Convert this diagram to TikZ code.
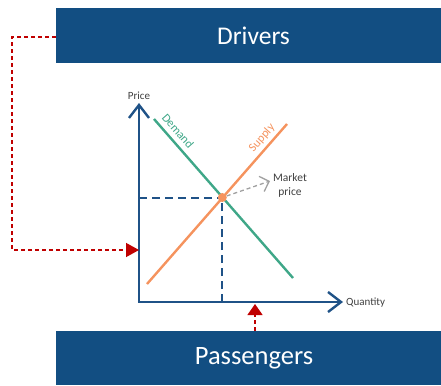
\documentclass[tikz,border=0pt]{standalone}
\usepackage{fontspec}
\setmainfont{Carlito}
\usetikzlibrary{arrows.meta}
\definecolor{boxblue}{HTML}{124E82}
\definecolor{axisblue}{HTML}{1F5287}
\definecolor{demandgreen}{HTML}{3FA788}
\definecolor{supplyorange}{HTML}{F5935E}
\definecolor{linkred}{HTML}{C00000}
\definecolor{labelgrey}{HTML}{404040}
\definecolor{pointergrey}{HTML}{A0A0A0}
\begin{document}
\begin{tikzpicture}[x=1pt,y=-1pt,
  banner/.style={fill=boxblue, text=white, minimum width=385pt, inner sep=0pt},
  axis/.style={draw=axisblue, line width=2.4pt, -{Straight Barb[length=13pt,width=20pt]}},
  guide/.style={draw=axisblue, line width=2pt, dash pattern=on 8pt off 5pt},
  curve/.style={line width=2.4pt},
  link/.style={draw=linkred, line width=1.4pt, dash pattern=on 4pt off 3pt, -{Triangle[length=13pt,width=14pt,fill=linkred]}},
  small/.style={text=labelgrey, inner sep=0pt}]
\useasboundingbox (0,0) rectangle (441,385);

% banners
\node[banner, minimum height=55pt] (drivers) at (248.5,35.5)
  {\fontsize{25.5}{28}\selectfont\hspace*{10pt}Drivers};
\node[banner, minimum height=54pt] (passengers) at (248.5,358)
  {\fontsize{26.5}{30}\selectfont\hspace*{11pt}Passengers};

% axes
\coordinate (origin) at (139,302);
\coordinate (ytop) at (139,103);
\coordinate (xend) at (343,302);
\draw[axis] ([yshift=1.2pt]origin) -- (ytop);
\draw[axis] ([xshift=-1.2pt]origin) -- (xend);
\node[small, anchor=south, font=\fontsize{11}{13}\selectfont] (price) at (139,100) {Price};
\node[small, anchor=west, font=\fontsize{11}{13}\selectfont] (quantity) at (346,303) {Quantity};

% demand and supply curves
\coordinate (d1) at (154,119);
\coordinate (d2) at (293,278);
\coordinate (s1) at (147,284);
\coordinate (s2) at (287,124);
\draw[curve, demandgreen] (d1) -- (d2);
\draw[curve, supplyorange] (s1) -- (s2);
\node[small, text=demandgreen, rotate=-48.6, font=\fontsize{12}{13}\selectfont] (demand) at (178,131) {Demand};
\node[small, text=supplyorange, rotate=48.8, font=\fontsize{12}{13}\selectfont] (supply) at (262,138) {Supply};

% equilibrium point and its guides
\coordinate (eq) at (222.3,197.5);
\coordinate (eqy) at (139,197.5);
\coordinate (eqx) at (222.3,302);
\draw[guide] (eqy) -- (eq);
\draw[guide] (eqx) -- (eq);
\node[circle, fill=supplyorange, minimum size=9pt, inner sep=0pt] (dot) at (eq) {};

% market price pointer
\node[small, align=center, font=\fontsize{11.5}{14}\selectfont] (market) at (290,185) {Market\\price};
\coordinate (mtip) at (270,181);
\draw[pointergrey, line width=1.3pt, dash pattern=on 4pt off 3pt, -{Straight Barb[length=8pt,width=16pt]}] (dot) -- (mtip);

% links from the banners to the axes
\coordinate (bend1) at (12,37);
\coordinate (bend2) at (12,250);
\coordinate (ptip) at (139,250);
\draw[link] (drivers.west |- 0,37) -- (bend1) -- (bend2) -- (ptip);
\coordinate (qtip) at (255,304);
\draw[link, -{Triangle[length=11pt,width=15pt,fill=linkred]}] (passengers.north -| qtip) -- (qtip);
\end{tikzpicture}
\end{document}
